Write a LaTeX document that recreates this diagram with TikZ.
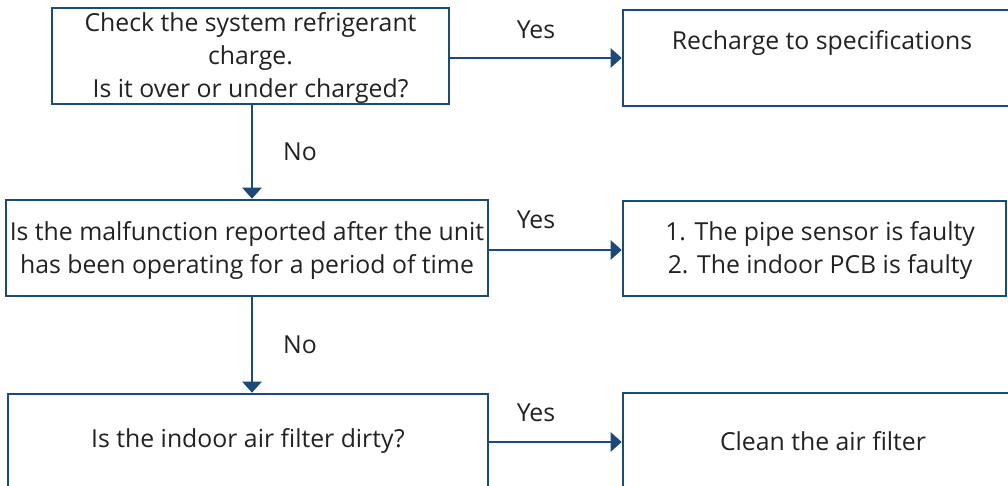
\documentclass[tikz,border=0pt]{standalone}
\usepackage{fontspec}
\setmainfont{Open Sans}
\usetikzlibrary{arrows.meta}
\definecolor{lineblue}{HTML}{1B4A78}
\definecolor{txt}{HTML}{222222}
\tikzset{
  box/.style={draw=lineblue, line width=2.6pt, fill=white, inner sep=0pt},
  lbl/.style={text=txt, font=\fontsize{24.8}{33}\selectfont, align=center, inner sep=0pt},
  conn/.style={draw=lineblue, line width=2.6pt, -{Triangle[length=11pt,width=19pt]}},
}
\begin{document}
\begin{tikzpicture}[x=1pt,y=-1pt]
\useasboundingbox (0,0) rectangle (1008,485);
\clip (0,0) rectangle (1008,485);
% boxes
\node[box, minimum width=397pt, minimum height=96pt] (b1) at (250.5,56) {};
\node[box, minimum width=400pt, minimum height=96pt] (r1) at (823,58) {};
\node[box, minimum width=482pt, minimum height=96pt] (b2) at (247,248) {};
\node[box, minimum width=383pt, minimum height=95pt] (r2) at (814.5,248.5) {};
\node[box, minimum width=480pt, minimum height=96pt] (b3) at (248,442) {};
\node[box, minimum width=400pt, minimum height=96pt] (r3) at (823,441) {};
% texts
\node[lbl] (t1) at (250.5,58) {Check the system refrigerant\\charge.\\Is it over or under charged?};
\node[lbl] (tr1) at (822,43) {Recharge to specifications};
\node[lbl] (t2) at (247,250) {Is the malfunction reported after the unit\\has been operating for a period of time};
\node[lbl] (tr2) at (820,250) {1. The pipe sensor is faulty\\2. The indoor PCB is faulty};
\node[lbl] (t3) at (248,441) {Is the indoor air filter dirty?};
\node[lbl] (tr3) at (823,441) {Clean the air filter};
% labels
\node[lbl] (y1) at (536,30) {Yes};
\node[lbl] (n1) at (300,152) {No};
\node[lbl] (y2) at (536,220) {Yes};
\node[lbl] (n2) at (300,345) {No};
\node[lbl] (y3) at (536,413) {Yes};
% connectors
\draw[conn] (b1.east |- 0,58) -- (r1.west |- 0,58);
\draw[conn] (b2.east |- 0,250) -- (r2.west |- 0,250);
\draw[conn] (b3.east |- 0,442) -- (r3.west |- 0,442);
\draw[conn] (b1.south -| 252,0) -- (b2.north -| 252,0);
\draw[conn] (b2.south -| 252,0) -- (b3.north -| 252,0);
\end{tikzpicture}
\end{document}
